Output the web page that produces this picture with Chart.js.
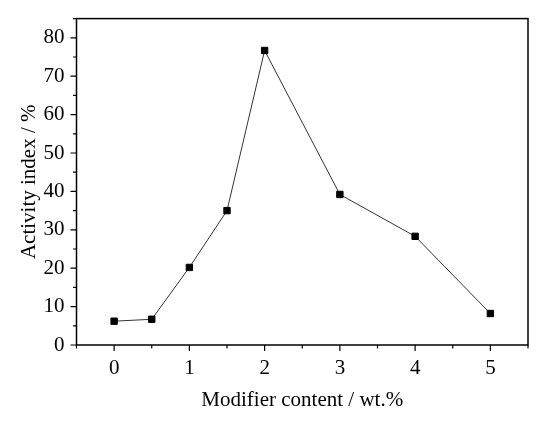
<!DOCTYPE html>
<html>
<head>
<meta charset="utf-8">
<script src="https://cdn.jsdelivr.net/npm/chart.js@4.4.1/dist/chart.umd.min.js"></script>
<style>
  html, body { margin: 0; padding: 0; background: #fff; }
  #wrap { width: 550px; height: 425px; }
</style>
</head>
<body>
<div id="wrap"><canvas id="chart" width="550" height="425"></canvas></div>
<script>
// Modifier content (wt.%) vs activity index (%)
const modifierContent = [0, 0.5, 1, 1.5, 2, 3, 4, 5];
const activityIndex = [6.2, 6.7, 20.2, 35.0, 76.7, 39.2, 28.3, 8.2];

const xTickLabels = ['0', '1', '2', '3', '4', '5'];
const yTickLabels = ['0', '10', '20', '30', '40', '50', '60', '70', '80'];

const FONT = '"Liberation Serif", "Times New Roman", serif';

// Draws the frame and outward major/minor ticks from the chart scales
const frameTicks = {
    id: 'frameTicks',
    afterDraw(chart) {
        const ctx = chart.ctx;
        const a = chart.chartArea;
        const xs = chart.scales.x;
        const ys = chart.scales.y;
        ctx.save();
        ctx.strokeStyle = '#000';
        ctx.lineWidth = 1.5;
        ctx.strokeRect(a.left, a.top, a.right - a.left, a.bottom - a.top);

        ctx.lineWidth = 1.2;
        ctx.beginPath();
        xs.ticks.forEach(t => {
            const px = xs.getPixelForValue(t.value);
            const len = xTickLabels.includes(String(t.value)) ? 6 : 3.5;
            ctx.moveTo(px, a.bottom);
            ctx.lineTo(px, a.bottom + len);
        });
        ys.ticks.forEach(t => {
            const py = ys.getPixelForValue(t.value);
            const len = yTickLabels.includes(String(t.value)) ? 6 : 3.5;
            ctx.moveTo(a.left, py);
            ctx.lineTo(a.left - len, py);
        });
        ctx.stroke();
        ctx.restore();
    }
};

new Chart(document.getElementById('chart'), {
    type: 'scatter',
    data: {
        datasets: [{
            data: modifierContent.map((x, i) => ({ x: x, y: activityIndex[i] })),
            showLine: true,
            borderColor: '#333',
            borderWidth: 1,
            pointStyle: 'rect',
            pointRadius: 4.5,
            pointBackgroundColor: '#000',
            pointBorderColor: '#000',
            pointBorderWidth: 1
        }]
    },
    options: {
        responsive: false,
        animation: false,
        layout: { padding: { top: 12, right: 22, left: 0, bottom: 0 } },
        plugins: { legend: { display: false }, tooltip: { enabled: false } },
        scales: {
            x: {
                type: 'linear',
                min: -0.5,
                max: 5.5,
                afterFit: s => { s.height = 80; },
                border: { display: false },
                grid: { drawOnChartArea: false, drawTicks: true, tickLength: 6, tickColor: 'transparent' },
                ticks: {
                    stepSize: 0.5,
                    autoSkip: false,
                    maxRotation: 0,
                    padding: 5,
                    color: '#000',
                    font: { family: FONT, size: 21 },
                    callback: v => xTickLabels.includes(String(v)) ? String(v) : ''
                },
                title: {
                    display: true,
                    text: 'Modifier content / wt.%',
                    color: '#000',
                    font: { family: FONT, size: 21 },
                    padding: { top: 0, bottom: 12 }
                }
            },
            y: {
                min: 0,
                max: 85,
                afterFit: s => { s.width = 76.5; },
                border: { display: false },
                grid: { drawOnChartArea: false, drawTicks: true, tickLength: 6, tickColor: 'transparent' },
                ticks: {
                    stepSize: 5,
                    autoSkip: false,
                    padding: 6,
                    color: '#000',
                    font: { family: FONT, size: 21 },
                    callback: v => yTickLabels.includes(String(v)) ? String(v) : ''
                },
                title: {
                    display: true,
                    text: 'Activity index / %',
                    color: '#000',
                    font: { family: FONT, size: 21 },
                    padding: { top: 17, bottom: 0 }
                }
            }
        }
    },
    plugins: [frameTicks]
});
</script>
</body>
</html>
